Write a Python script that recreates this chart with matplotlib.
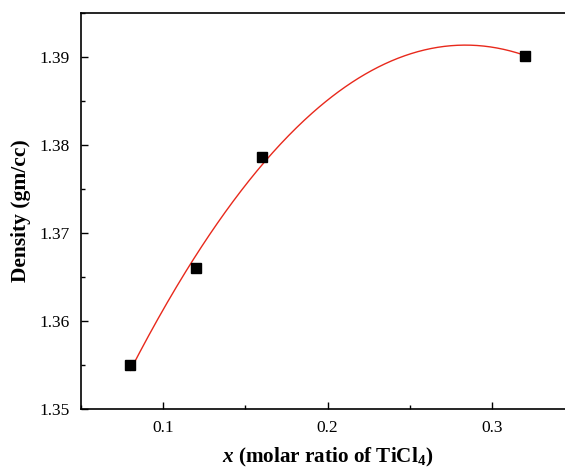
import numpy as np
import matplotlib
matplotlib.use("Agg")
import matplotlib.pyplot as plt
from matplotlib.ticker import MultipleLocator

x_ratio = [0.08, 0.12, 0.16, 0.32]
density = [1.355, 1.366, 1.3786, 1.3901]

plt.rcParams['font.family'] = ['Liberation Serif']
plt.rcParams['mathtext.fontset'] = 'custom'
plt.rcParams['mathtext.rm'] = 'Liberation Serif:bold'
plt.rcParams['mathtext.it'] = 'Liberation Serif:bold:italic'
plt.rcParams['mathtext.bf'] = 'Liberation Serif:bold'

fig = plt.figure(figsize=(5.65, 4.68), dpi=100)
ax = fig.add_axes([81/565, 1 - 409/468, (574-81)/565, (409-12.7)/468])

coef = np.polyfit(x_ratio, density, 2)
xf = np.linspace(min(x_ratio), max(x_ratio), 300)
ax.plot(xf, np.polyval(coef, xf), color='#e8291c', lw=1.0, zorder=2)
ax.plot(x_ratio, density, 's', color='black', ms=7, zorder=3)

ax.set_xlim(0.05, 0.35)
ax.set_ylim(1.35, 1.395)
ax.xaxis.set_minor_locator(MultipleLocator(0.05))
ax.yaxis.set_minor_locator(MultipleLocator(0.005))
ax.set_xticks([0.1, 0.2, 0.3])
ax.set_xticklabels(['0.1', '0.2', '0.3'])
ax.set_yticks([1.35, 1.36, 1.37, 1.38, 1.39])
ax.set_yticklabels(['1.35', '1.36', '1.37', '1.38', '1.39'])
ax.tick_params(which='both', direction='in', labelsize=12.5, width=1)
ax.tick_params(which='major', length=5, pad=8)
ax.tick_params(which='minor', length=3)
for s in ax.spines.values():
    s.set_linewidth(1.2)

ax.set_ylabel('Density (gm/cc)', fontsize=15.5, fontweight='bold', labelpad=6)
ax.set_xlabel(r'$x$ (molar ratio of TiCl$_4$)', fontsize=15.2, fontweight='bold', labelpad=7)

fig.savefig('out.png', dpi=100)
